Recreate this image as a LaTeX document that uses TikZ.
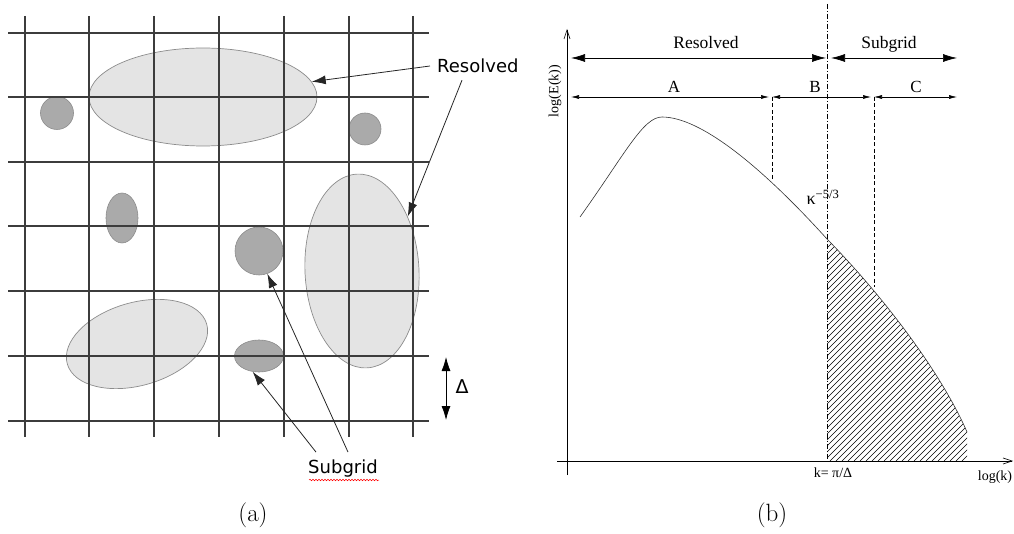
\documentclass[tikz,border=0pt]{standalone}
\usepackage{fontspec}
\newfontfamily\sansfig{DejaVu Sans}
\newfontfamily\seriffig{Liberation Serif}
\usetikzlibrary{arrows.meta,shapes.geometric,decorations.pathmorphing}
\definecolor{gridline}{RGB}{60,60,60}
\definecolor{bigblob}{RGB}{228,228,228}
\definecolor{smallblob}{RGB}{170,170,170}
\definecolor{blobedge}{RGB}{140,140,140}
\tikzset{
  resolvededdy/.style={ellipse,draw=blobedge,fill=bigblob,inner sep=0pt,line width=0.7pt},
  subgrideddy/.style={ellipse,draw=blobedge,fill=smallblob,inner sep=0pt,line width=0.6pt},
  pointer/.style={-{Latex[length=14pt,width=9pt]},line width=0.8pt,black!85},
  bigrange/.style={{Latex[length=14pt,width=8pt]}-{Latex[length=14pt,width=8pt]},line width=0.7pt},
  smallrange/.style={{Latex[length=8pt,width=4pt]}-{Latex[length=8pt,width=4pt]},line width=0.6pt},
  axis/.style={-{Straight Barb[length=9pt,width=6pt]},line width=0.6pt},
}

\begin{document}
\begin{tikzpicture}[x=1pt,y=-1pt]
\useasboundingbox (0,0) rectangle (1014,534);
% (a)
\node[resolvededdy,minimum width=228pt,minimum height=98pt] (topeddy) at (203,97) {};
\node[resolvededdy,minimum width=114pt,minimum height=194pt,rotate=3] (righteddy) at (362,271) {};
\node[resolvededdy,minimum width=145pt,minimum height=83pt,rotate=16] (lefteddy) at (137,344) {};
\node[subgrideddy,minimum size=33pt] (sg1) at (57,113) {};
\node[subgrideddy,minimum size=32pt] (sg2) at (365,129) {};
\node[subgrideddy,minimum width=32pt,minimum height=50pt] (sg3) at (122,218) {};
\node[subgrideddy,minimum size=48pt] (sg4) at (259,251) {};
\node[subgrideddy,minimum width=49pt,minimum height=32pt] (sg5) at (259,356) {};
\foreach \y in {33,97,162,226,291,356,421} \draw[gridline,line width=1.2pt] (8,\y) -- (429,\y);
\foreach \x in {25,89,154,219,284,349,413} \draw[gridline,line width=1.2pt] (\x,16) -- (\x,437);
\node[font=\sansfig\fontsize{18}{20}\selectfont,anchor=west,inner sep=7pt] (reslabel) at (430,66) {Resolved};
\draw[pointer] (reslabel.west) -- (topeddy.8);
\draw[pointer] ([xshift=32pt]reslabel.south west) -- (righteddy.47);
\node[font=\sansfig\fontsize{18}{20}\selectfont,inner sep=8pt] (sublabel) at (343,469) {Subgrid};
\draw[pointer] ([xshift=5pt]sublabel.north) -- (sg4.-70);
\draw[pointer] ([xshift=-27pt]sublabel.north) -- (sg5.-112);
\draw[red,line width=0.5pt,decorate,decoration={snake,amplitude=0.8pt,segment length=3pt}] (309,480) -- (379,480);
\coordinate (dtop) at (446,357);
\coordinate (dbot) at (446,420);
\draw[{Latex[length=14pt,width=9pt]}-{Latex[length=14pt,width=9pt]},line width=0.8pt] (dtop) -- (dbot);
\node[font=\sansfig\fontsize{19}{21}\selectfont] (deltalabel) at (462,387) {Δ};
\node[font=\fontsize{25}{30}\selectfont] (capa) at (253,515) {(a)};
% (b)
\coordinate (ybase) at (567,475);
\coordinate (ytip) at (567,29);
\coordinate (xbase) at (557,461);
\coordinate (xtip) at (1013,461);
\draw[axis] (ybase) -- (ytip);
\draw[axis] (xbase) -- (xtip);
\begin{scope}
  \clip (827,461) -- (827,239) .. controls (880,293) and (940,370) .. (967,432) -- (967,461) -- cycle;
  \foreach \x in {590,596,...,980} \draw[line width=0.55pt] (\x,461) -- ++(240,-240);
\end{scope}
\draw[line width=0.6pt,black!80] (580,217) .. controls (625,154) and (643,117) .. (662,117)
  .. controls (700,117) and (760,165) .. (827,239) .. controls (880,293) and (940,370) .. (967,432);
\coordinate (cuttop) at (827,4);
\coordinate (cutbot) at (827,461);
\draw[dash pattern=on 5pt off 2pt on 1pt off 2pt,line width=0.5pt] (cuttop) -- (cutbot);
\coordinate (resL) at (571,58); \coordinate (resR) at (826,58);
\coordinate (subL) at (831,58); \coordinate (subR) at (957,58);
\draw[bigrange] (resL) -- (resR);
\draw[bigrange] (subL) -- (subR);
\coordinate (aL) at (571,97); \coordinate (aR) at (769,97);
\coordinate (bL) at (772,97); \coordinate (bR) at (871,97);
\coordinate (cL) at (874,97); \coordinate (cR) at (957,97);
\draw[smallrange] (aL) -- (aR);
\draw[smallrange] (bL) -- (bR);
\draw[smallrange] (cL) -- (cR);
\coordinate (bfoot) at (772,180);
\coordinate (cfoot) at (874,287);
\draw[dash pattern=on 4pt off 2.5pt,line width=0.5pt] (bL) -- (bfoot);
\draw[dash pattern=on 4pt off 2.5pt,line width=0.5pt] (cL) -- (cfoot);
\node[font=\seriffig\fontsize{17.5}{20}\selectfont] (resolvedb) at (706,43) {Resolved};
\node[font=\seriffig\fontsize{17.5}{20}\selectfont] (subgridb) at (889,44) {Subgrid};
\node[font=\seriffig\fontsize{17}{20}\selectfont] (rangeA) at (674,87) {A};
\node[font=\seriffig\fontsize{17}{20}\selectfont] (rangeB) at (815,87) {B};
\node[font=\seriffig\fontsize{17}{20}\selectfont] (rangeC) at (916,87) {C};
\node[font=\seriffig\fontsize{14}{16}\selectfont,rotate=90] (ylabel) at (555,91) {log(E(k))};
\node[font=\seriffig\fontsize{18}{20}\selectfont] (slope) at (823,197) {κ\textsuperscript{−5/3}};
\node[font=\seriffig\fontsize{14}{16}\selectfont] (cutlabel) at (833,473) {k= π/Δ};
\node[font=\seriffig\fontsize{14}{16}\selectfont] (xlabel) at (995,477) {log(k)};
\node[font=\fontsize{25}{30}\selectfont] (capb) at (772,515) {(b)};
\end{tikzpicture}
\end{document}
